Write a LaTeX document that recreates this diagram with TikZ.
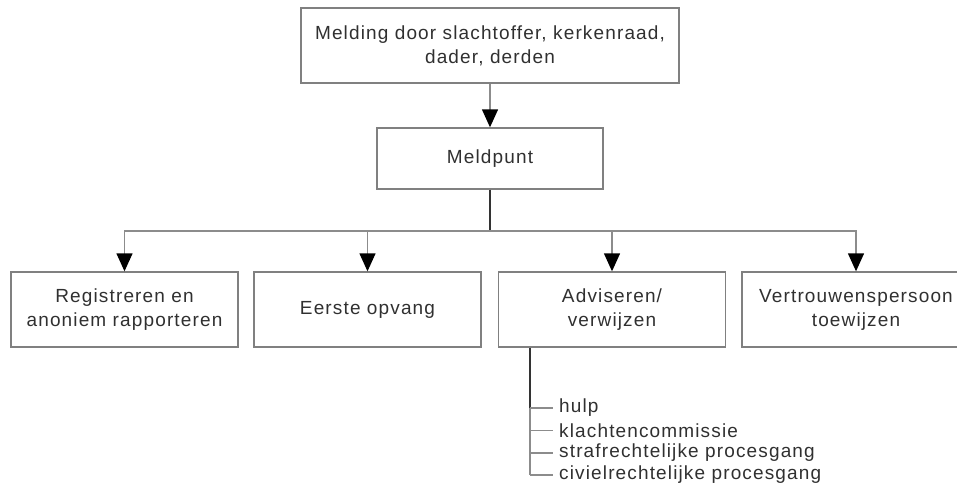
\documentclass[tikz,border=0pt]{standalone}
\usepackage{fontspec}
\setmainfont[LetterSpace=6]{Liberation Sans}
\usetikzlibrary{arrows.meta}
\definecolor{boxline}{HTML}{808080}
\definecolor{linegray}{HTML}{8C8C8C}
\definecolor{textgray}{HTML}{303030}
\begin{document}
\begin{tikzpicture}[x=1pt, y=-1pt,
	box/.style={draw=boxline, line width=1.4pt, inner sep=0pt, minimum width=227pt, minimum height=75pt, align=center, text=textgray, font=\fontsize{19}{24}\selectfont},
	arr/.style={draw=linegray, line width=1.4pt, -{Triangle[width=16pt, length=18pt, black]}},
	trunk/.style={draw=black!80, line width=2pt},
	twig/.style={draw=linegray, line width=1.4pt},
	item/.style={anchor=west, inner sep=0pt, text=textgray, font=\fontsize{19}{20}\selectfont}]
	\useasboundingbox (0,0) rectangle (957,491);
	
	\node[box, minimum width=378pt] (melding) at (490,45.5) {Melding door slachtoffer, kerkenraad,\\dader, derden};
	\node[box, minimum width=226pt, minimum height=61pt] (meldpunt) at (490,158.5) {Meldpunt};
	\node[box] (reg) at (124.5,309.5) {Registreren en\\anoniem rapporteren};
	\node[box] (opvang) at (367.5,309.5) {Eerste opvang};
	\node[box] (advies) at (612,309.5) {Adviseren/\\verwijzen};
	\node[box, minimum width=228pt] (vertr) at (856,309.5) {Vertrouwenspersoon\\toewijzen};
	
	\coordinate (split) at (490,231);
	\draw[arr] (melding) -- (meldpunt);
	\draw[trunk] (meldpunt) -- (split);
	\draw[arr] (split) -| (reg);
	\draw[arr] (split) -| (opvang);
	\draw[arr] (split) -| (advies);
	\draw[arr] (split) -| (vertr);
	
	% list under adviseren
	\node[item] (hulp) at (559,408) {hulp};
	\node[item] (klacht) at (559,430.5) {klachtencommissie};
	\node[item] (straf) at (559,453) {strafrechtelijke procesgang};
	\node[item] (civiel) at (559,475) {civielrechtelijke procesgang};
	
	\coordinate (stem) at ([xshift=32pt]advies.south west);
	\draw[twig] (stem |- hulp.west) -- (stem |- civiel.west);
	\draw[trunk] (stem) -- (stem |- hulp.west);
	\foreach \n in {hulp, klacht, straf, civiel}
		\draw[twig] (stem |- \n.west) -- ([xshift=-6pt]\n.west);
	
\end{tikzpicture}
\end{document}
